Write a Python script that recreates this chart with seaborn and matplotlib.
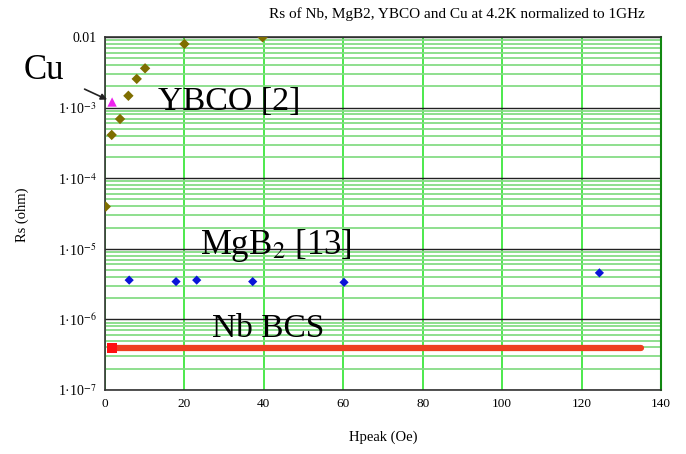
import matplotlib
matplotlib.use("Agg")
import matplotlib.pyplot as plt
import matplotlib.ticker as mticker
import numpy as np
import pandas as pd
import seaborn as sns

# ---- data ----
ybco_h = [0.2, 1.7, 3.8, 5.9, 8.0, 10.1, 20.0, 39.7]
ybco_rs = [3.96e-5, 4.1e-4, 6.9e-4, 1.47e-3, 2.55e-3, 3.6e-3, 7.96e-3, 9.9e-3]

mgb2_h = [6.1, 17.9, 23.1, 37.2, 60.2, 124.5]
mgb2_rs = [3.6e-6, 3.43e-6, 3.6e-6, 3.43e-6, 3.35e-6, 4.56e-6]

cu_h = [1.8]
cu_rs = [1.2e-3]

nb_h = [1.8, 135.0]
nb_rs = [3.95e-7, 3.95e-7]

x_ticks = [0, 20, 40, 60, 80, 100, 120, 140]
y_ticks = [1e-7, 1e-6, 1e-5, 1e-4, 1e-3, 1e-2]
y_tick_labels = ["1·10$^{-7}$", "1·10$^{-6}$", "1·10$^{-5}$", "1·10$^{-4}$",
                 "1·10$^{-3}$", "0.01"]

title = "Rs of Nb, MgB2, YBCO and Cu at 4.2K normalized to 1GHz"

sns.set_style("white")
plt.rcParams["font.family"] = ["Liberation Serif", "DejaVu Serif"]
plt.rcParams["mathtext.fontset"] = "stix"
plt.rcParams["text.color"] = "black"
plt.rcParams["xtick.color"] = "black"
plt.rcParams["ytick.color"] = "black"

fig = plt.figure(figsize=(6.86, 4.54), dpi=100)
ax = fig.add_axes([0.153, 0.141, 0.8105, 0.7775])

ybco = pd.DataFrame({"h": ybco_h, "rs": ybco_rs})
mgb2 = pd.DataFrame({"h": mgb2_h, "rs": mgb2_rs})
cu = pd.DataFrame({"h": cu_h, "rs": cu_rs})
nb = pd.DataFrame({"h": nb_h, "rs": nb_rs})

ax.set_yscale("log")
ax.set_xlim(0, 140)
ax.set_ylim(1e-7, 1e-2)

# grid
ax.set_axisbelow(True)
ax.yaxis.set_minor_locator(mticker.LogLocator(base=10, subs=np.arange(2, 10)))
ax.yaxis.set_minor_formatter(mticker.NullFormatter())
ax.grid(True, which="minor", axis="y", color="#86dc86", lw=1.3)
ax.grid(True, which="major", axis="y", color="#222222", lw=1.0)
ax.grid(True, which="major", axis="x", color="#2ee52e", lw=1.2)

sns.lineplot(data=nb, x="h", y="rs", ax=ax, color="#ee4020", lw=4.5,
             zorder=3, legend=False)
sns.scatterplot(data=nb.iloc[:1], x="h", y="rs", ax=ax, marker="s",
                color="#ff1010", s=55, edgecolor="none", zorder=4, clip_on=False)
sns.scatterplot(data=ybco, x="h", y="rs", ax=ax, marker="D", color="#7f6e00",
                s=28, edgecolor="none", zorder=4)
sns.scatterplot(data=mgb2, x="h", y="rs", ax=ax, marker="D", color="#0a14d8",
                s=22, edgecolor="none", zorder=4)
sns.scatterplot(data=cu, x="h", y="rs", ax=ax, marker="^", color="#ee22ee",
                s=45, edgecolor="none", zorder=4)

ax.set_xticks(x_ticks)
ax.set_xticklabels([str(t) for t in x_ticks], fontsize=9.5)
ax.set_yticks(y_ticks)
ax.set_yticklabels(y_tick_labels, fontsize=10)
ax.tick_params(axis="both", which="both", length=0, pad=6)
ax.set_xlabel("")
ax.set_ylabel("")

for s in ["left", "bottom", "top"]:
    ax.spines[s].set_color("#333333")
    ax.spines[s].set_linewidth(1.2)
ax.spines["right"].set_color("#118811")
ax.spines["right"].set_linewidth(1.5)

# texts
fig.text(457 / 686, 1 - 14 / 454, title, ha="center", va="center", fontsize=11)
fig.text(383 / 686, 1 - 437 / 454, "Hpeak (Oe)", ha="center", va="center",
         fontsize=10.5)
fig.text(22 / 686, 1 - 215 / 454, "Rs (ohm)", ha="center", va="center",
         fontsize=10.5, rotation=90)

ax.text(13.3, 1.2e-3, "YBCO [2]", fontsize=24.5, va="center", ha="left", zorder=5)
ax.text(24, 1.1e-5, "MgB$_2$ [13]", fontsize=25, va="center", ha="left", zorder=5)
ax.text(27, 7.3e-7, "Nb BCS", fontsize=24, va="center", ha="left", zorder=5)

ax.annotate("Cu", xy=(1.2, 1.25e-3), xytext=(-15.5, 3.4e-3),
            fontsize=25, ha="center", va="center", annotation_clip=False,
            arrowprops=dict(arrowstyle="-|>", color="#222222", lw=1.2,
                            shrinkA=14, shrinkB=2, mutation_scale=9))

fig.savefig("out.png", dpi=100)
